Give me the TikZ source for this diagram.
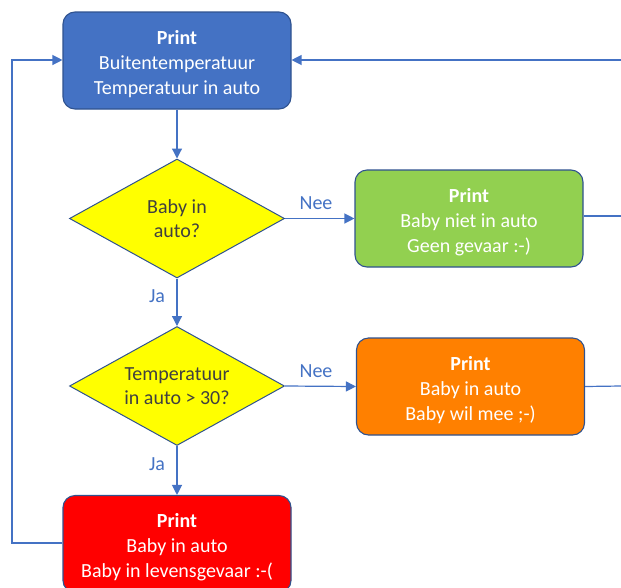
\documentclass[tikz,border=0pt]{standalone}
\usepackage{fontspec}
\setmainfont{Carlito}
\usetikzlibrary{shapes.geometric,arrows.meta}
\definecolor{accblue}{HTML}{4472C4}
\definecolor{edgeblue}{HTML}{2F528F}
\definecolor{okgreen}{HTML}{92D050}
\definecolor{warnorange}{HTML}{FF8000}
\definecolor{dangerred}{HTML}{FF0000}
\definecolor{qyellow}{HTML}{FFFF00}
\definecolor{qtext}{HTML}{404040}
\newcommand{\topstrut}{\rule{0pt}{21pt}}
\tikzset{
  box/.style={draw=edgeblue, line width=1.1pt, rounded corners=12pt, minimum width=228pt, minimum height=97pt, inner sep=0pt, align=center, text=white, font=\fontsize{20}{25}\selectfont},
  question/.style={diamond, draw=edgeblue, line width=1pt, fill=qyellow, aspect=1.8, minimum width=215pt, minimum height=119pt, inner sep=0pt, align=center, text=qtext, font=\fontsize{20}{24.5}\selectfont},
  conn/.style={draw=accblue, line width=1.2pt},
  arr/.style={conn, -{Triangle[length=10pt,width=10pt]}},
  lbl/.style={text=accblue, font=\fontsize{20}{24}\selectfont, inner sep=0pt}
}
\begin{document}
\begin{tikzpicture}[x=1pt,y=-1pt]
\clip (0,0) rectangle (621,587);
\useasboundingbox (0,0) rectangle (621,587);
\node[box, fill=accblue] (start) at (177,60.5) {\topstrut\textbf{Print}\\Buitentemperatuur\\Temperatuur in auto};
\node[question] (q1) at (177,218.5) {Baby in\\auto?};
\node[question] (q2) at (177,386) {Temperatuur\\in auto > 30?};
\node[box, fill=okgreen] (safe) at (469,218.5) {\topstrut\textbf{Print}\\Baby niet in auto\\Geen gevaar :-)};
\node[box, fill=warnorange] (fine) at (470.5,386.5) {\topstrut\textbf{Print}\\Baby in auto\\Baby wil mee ;-)};
\node[box, fill=dangerred] (alarm) at (177,544) {\topstrut\textbf{Print}\\Baby in auto\\Baby in levensgevaar :-(};
\coordinate (topin) at (621,60);
\coordinate (gout) at (621,216);
\coordinate (oout) at (621,386);
\coordinate (lb) at (12,543);
\coordinate (lt) at (12,60);
\node[lbl] (nee1) at (316,203) {Nee};
\node[lbl] (nee2) at (316,371) {Nee};
\node[lbl] (ja1) at (157,296) {Ja};
\node[lbl] (ja2) at (157,464) {Ja};
\draw[arr] (start.south) -- (q1.north);
\draw[arr] (q1.east) -- (safe.west);
\draw[arr] (q1.south) -- (q2.north);
\draw[arr] (q2.east) -- (fine.west);
\draw[arr] (q2.south) -- (alarm.north);
\draw[conn] (safe.east |- gout) -- (gout);
\draw[conn] (fine.east) -- (oout);
\draw[arr] (topin) -- (start.east |- topin);
\draw[arr] (alarm.west |- lb) -- (lb) -- (lt) -- (start.west |- lt);
\end{tikzpicture}
\end{document}
